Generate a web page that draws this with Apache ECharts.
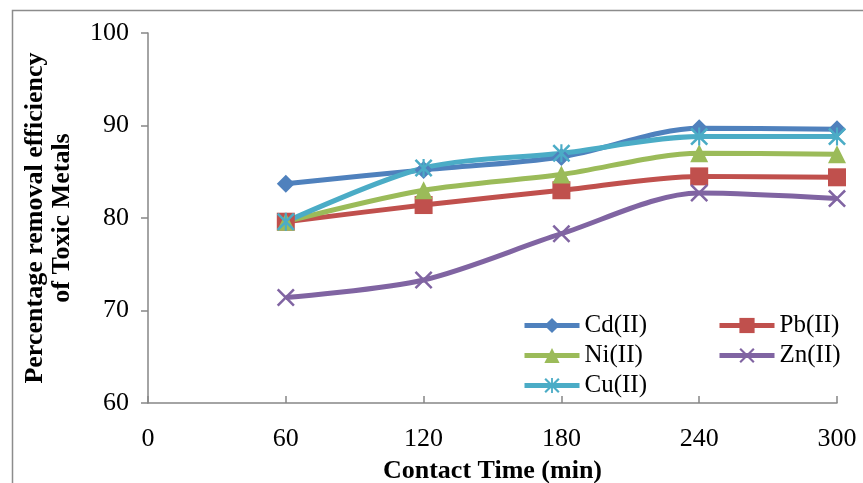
<!DOCTYPE html>
<html>
<head>
<meta charset="utf-8">
<script src="https://cdn.jsdelivr.net/npm/echarts@6/dist/echarts.min.js"></script>
<style>
  html, body { margin: 0; padding: 0; background: #fff; }
  #chart { width: 863px; height: 483px; }
</style>
</head>
<body>
<div id="chart"></div>
<script>
// contact time (min) and removal efficiency (%) per metal
const times = [60, 120, 180, 240, 300]
const cd = [83.7, 85.2, 86.6, 89.7, 89.6]
const pb = [79.6, 81.4, 83.0, 84.5, 84.4]
const ni = [79.6, 83.0, 84.7, 87.0, 86.9]
const zn = [71.4, 73.3, 78.3, 82.7, 82.1]
const cu = [79.6, 85.4, 87.0, 88.8, 88.8]

const FONT = '"Liberation Serif", "Times New Roman", serif'
const AXIS = '#868686'

// thin X and asterisk markers, as filled polygons
const CROSS = 'path://M0,1 L1,0 L5,4 L9,0 L10,1 L6,5 L10,9 L9,10 L5,6 L1,10 L0,9 L4,5 Z'
const STAR = CROSS + ' M4.4,0 L5.6,0 L5.6,10 L4.4,10 Z'

function line(name, vals, color, symbol, size) {
  return {
    name, type: 'line', smooth: 0.3,
    data: times.map((t, i) => [t, vals[i]]),
    symbol, symbolSize: size,
    lineStyle: { color, width: 5 },
    itemStyle: { color, borderWidth: 0 },
  }
}

const legendBase = {
  orient: 'vertical', top: 308,
  itemWidth: 55, itemHeight: 19, itemGap: 5,
  lineStyle: { width: 5 },
  textStyle: { fontFamily: FONT, fontSize: 25, color: '#000' },
}

const chart = echarts.init(document.getElementById('chart'), null, { renderer: 'canvas' })
chart.setOption({
  animation: false,
  grid: { left: 148, right: 26, top: 33, bottom: 80, outerBoundsMode: 'none', containLabel: false },
  graphic: [{
    type: 'rect', left: 10, top: 8, silent: true,
    shape: { width: 900, height: 500 },
    style: { fill: 'none', stroke: '#8c8c8c', lineWidth: 1.5 },
  }],
  xAxis: {
    type: 'value', min: 0, max: 300, interval: 60,
    name: 'Contact Time (min)', nameLocation: 'middle', nameGap: 55,
    nameTextStyle: { fontFamily: FONT, fontSize: 26, fontWeight: 'bold', color: '#000' },
    axisLine: { lineStyle: { color: AXIS, width: 1.5 } },
    axisTick: { inside: true, length: 7, lineStyle: { color: AXIS, width: 1.5 } },
    axisLabel: { fontFamily: FONT, fontSize: 26, color: '#000', margin: 23 },
    splitLine: { show: false },
  },
  yAxis: {
    type: 'value', min: 60, max: 100, interval: 10,
    name: 'Percentage removal efficiency\nof Toxic Metals', nameLocation: 'middle', nameGap: 72,
    nameTextStyle: { fontFamily: FONT, fontSize: 26, fontWeight: 'bold', color: '#000', lineHeight: 27 },
    axisLine: { show: true, lineStyle: { color: AXIS, width: 1.5 } },
    axisTick: { show: true, length: 7, lineStyle: { color: AXIS, width: 1.5 } },
    axisLabel: { fontFamily: FONT, fontSize: 26, color: '#000', margin: 19 },
    splitLine: { show: false },
  },
  legend: [
    Object.assign({ data: ['Cd(II)', 'Ni(II)', 'Cu(II)'], left: 517 }, legendBase),
    Object.assign({ data: ['Pb(II)', 'Zn(II)'], left: 712 }, legendBase),
  ],
  series: [
    line('Cd(II)', cd, '#4f81bd', 'diamond', 18),
    line('Pb(II)', pb, '#c0504d', 'rect', 18),
    line('Ni(II)', ni, '#9bbb59', 'triangle', 18),
    line('Zn(II)', zn, '#8064a2', CROSS, 18),
    line('Cu(II)', cu, '#4bacc6', STAR, 18),
  ],
})
</script>
</body>
</html>
